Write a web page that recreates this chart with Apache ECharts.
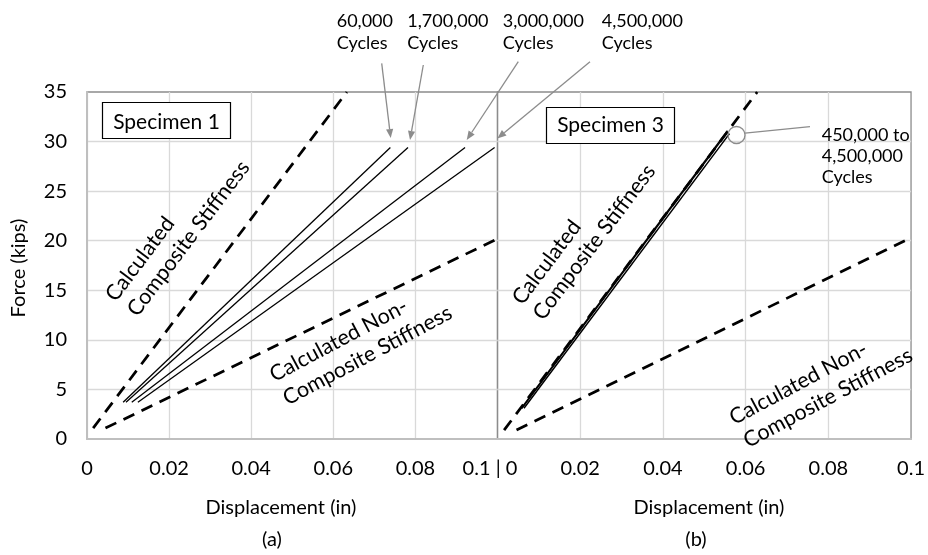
<!DOCTYPE html>
<html><head><meta charset="utf-8">
<script src="https://cdn.jsdelivr.net/npm/echarts@6/dist/echarts.min.js"></script>
<style>html,body{margin:0;padding:0;background:#fff}#c{width:928px;height:555px}</style>
</head><body><div id="c"></div>
<script>
// ---- data ----
const xTickLabelsA = ['0', '0.02', '0.04', '0.06', '0.08', '0.1 | 0'];
const xTickLabelsB = ['', '0.02', '0.04', '0.06', '0.08', '0.1'];
const yTickLabels = ['0', '5', '10', '15', '20', '25', '30', '35'];
// Specimen 1 (a)
const s1Composite = [[0.0015, 1.1], [0.0633, 35]];
const s1NonComposite = [[0.0045, 1.1], [0.1, 20.2]];
const s1Cycles60k = [[0.0088, 3.7], [0.0739, 29.4]];
const s1Cycles1700k = [[0.0095, 3.7], [0.0782, 29.4]];
const s1Cycles3000k = [[0.0109, 3.7], [0.0921, 29.4]];
const s1Cycles4500k = [[0.0124, 3.7], [0.0993, 29.4]];
// Specimen 3 (b)
const s3Composite = [[0.0016, 0.9], [0.0628, 35]];
const s3NonComposite = [[0.0046, 0.9], [0.1, 20.3]];
const s3CyclesA = [[0.0058, 3.1], [0.0556, 31.1]];
const s3CyclesB = [[0.0064, 3.1], [0.0561, 30.8]];
const s3CyclesC = [[0.0059, 3.1], [0.0557, 31.0]];

const FONT = 'Lato, "Open Sans", sans-serif';
const GRAY = '#8c8c8c';
const chart = echarts.init(document.getElementById('c'), null, {renderer: 'canvas'});

function dashed(data, xi) {
  return {type: 'line', xAxisIndex: xi, yAxisIndex: xi, data: data, symbol: 'none', silent: true,
    lineStyle: {color: '#000', width: 2.75, type: [12, 8]}, z: 3};
}
function solid(data, xi, w) {
  return {type: 'line', xAxisIndex: xi, yAxisIndex: xi, data: data, symbol: 'none', silent: true,
    lineStyle: {color: '#000', width: w || 1.3}, z: 4};
}
function xAxisCfg(gi, labels) {
  return {
    gridIndex: gi, type: 'value', min: 0, max: 0.1, interval: 0.02,
    axisLine: {show: true, lineStyle: {color: '#bfbfbf', width: 2}},
    axisTick: {show: false},
    splitLine: {show: true, showMaxLine: false, showMinLine: gi === 0, lineStyle: {color: '#d9d9d9', width: 1.3}},
    axisLabel: {
      margin: 20, color: '#000', fontFamily: FONT, fontSize: 20,
      formatter: function (v) {
        const s = labels[Math.round(v / 0.02)];
        return s === '0.1 | 0' ? '{m|' + s + '}' : s;
      },
      rich: {m: {fontFamily: FONT, fontSize: 20, color: '#000', padding: [0, 15, 3, 0]}}
    }
  };
}
function yAxisCfg(gi) {
  return {
    gridIndex: gi, type: 'value', min: 0, max: 35, interval: 5,
    axisLine: {show: gi === 0, lineStyle: {color: '#bfbfbf', width: 2}},
    axisTick: {show: false},
    splitLine: {show: true, showMaxLine: false, showMinLine: false, lineStyle: {color: '#d9d9d9', width: 1.3}},
    axisLabel: {show: gi === 0, margin: 20, color: '#000', fontFamily: FONT, fontSize: 20,
      formatter: function (v) { return yTickLabels[Math.round(v / 5)]; }}
  };
}

function txt(x, y, text, opts) {
  opts = opts || {};
  return {type: 'text', x: x, y: y, rotation: opts.rot ? opts.rot * Math.PI / 180 : 0, z: 20,
    style: {text: text, fontFamily: FONT, fontSize: opts.size || 18, fill: '#000',
      align: opts.align || 'left', verticalAlign: opts.va || 'middle'}};
}
function arrow(x1, y1, x2, y2) {
  const dx = x2 - x1, dy = y2 - y1, L = Math.sqrt(dx * dx + dy * dy);
  const ux = dx / L, uy = dy / L, h = 9, w = 3.6;
  const bx = x2 - ux * h, by = y2 - uy * h;
  return [
    {type: 'line', z: 20, shape: {x1: x1, y1: y1, x2: bx, y2: by}, style: {stroke: GRAY, lineWidth: 1.3}},
    {type: 'polygon', z: 20, shape: {points: [[x2, y2], [bx - uy * w, by + ux * w], [bx + uy * w, by - ux * w]]},
      style: {fill: GRAY}}
  ];
}

const graphics = [].concat(
  // axis titles
  [txt(18.5, 268, 'Force (kips)', {rot: 90, align: 'center', size: 20})],
  [txt(281, 508, 'Displacement (in)', {align: 'center', size: 20})],
  [txt(272, 540, '(a)', {align: 'center', size: 20})],
  [txt(709, 508, 'Displacement (in)', {align: 'center', size: 20})],
  [txt(696, 540, '(b)', {align: 'center', size: 20})],
  // specimen boxes
  [{type: 'rect', z: 19, shape: {x: 102.5, y: 102.5, width: 128, height: 36}, style: {fill: '#fff', stroke: '#000', lineWidth: 1.2}}],
  [txt(166.5, 122, 'Specimen 1', {align: 'center', size: 21})],
  [{type: 'rect', z: 19, shape: {x: 546.5, y: 107.5, width: 128, height: 36}, style: {fill: '#fff', stroke: '#000', lineWidth: 1.2}}],
  [txt(610.5, 125, 'Specimen 3', {align: 'center', size: 21})],
  // rotated labels, panel (a)
  [txt(110.3, 298.5, 'Calculated', {rot: 53, size: 21.5})],
  [txt(131.9, 313.5, 'Composite Stiffness', {rot: 53, size: 21.5})],
  [txt(271.2, 376.2, 'Calculated Non-', {rot: 28, size: 21.5})],
  [txt(284.5, 399.6, 'Composite Stiffness', {rot: 28, size: 21.5})],
  // rotated labels, panel (b)
  [txt(516.9, 301.9, 'Calculated', {rot: 53, size: 21.5})],
  [txt(537.6, 317.2, 'Composite Stiffness', {rot: 53, size: 21.5})],
  [txt(731, 419, 'Calculated Non-', {rot: 28, size: 21.5})],
  [txt(745, 442, 'Composite Stiffness', {rot: 28, size: 21.5})],
  // cycle annotations
  [txt(336.7, 20.7, '60,000'), txt(336.7, 43.3, 'Cycles')],
  [txt(407.3, 20.7, '1,700,000'), txt(407.3, 43.3, 'Cycles')],
  [txt(502.7, 20.7, '3,000,000'), txt(502.7, 43.3, 'Cycles')],
  [txt(601.7, 20.7, '4,500,000'), txt(601.7, 43.3, 'Cycles')],
  arrow(381.7, 63.3, 390.7, 138),
  arrow(423.3, 65, 410, 140),
  arrow(518.3, 61.7, 466.7, 140),
  arrow(590, 61.7, 497.3, 138.5),
  [{type: 'circle', z: 20, shape: {cx: 736.5, cy: 135, r: 8.5}, style: {fill: 'none', stroke: GRAY, lineWidth: 1.3}}],
  [{type: 'line', z: 20, shape: {x1: 745, y1: 133.2, x2: 810, y2: 126.7}, style: {stroke: GRAY, lineWidth: 1.2}}],
  [txt(821.7, 135, '450,000 to'), txt(821.7, 156, '4,500,000'), txt(821.7, 177, 'Cycles')]
);

chart.setOption({
  animation: false,
  backgroundColor: '#fff',
  grid: [
    {left: 87, top: 92, width: 410.5, height: 347, show: true, borderColor: GRAY, borderWidth: 1.3, backgroundColor: 'transparent'},
    {left: 497.5, top: 92, width: 415, height: 347, show: true, borderColor: GRAY, borderWidth: 1.3, backgroundColor: 'transparent'}
  ],
  xAxis: [xAxisCfg(0, xTickLabelsA), xAxisCfg(1, xTickLabelsB)],
  yAxis: [yAxisCfg(0), yAxisCfg(1)],
  series: [
    dashed(s1Composite, 0), dashed(s1NonComposite, 0),
    solid(s1Cycles60k, 0), solid(s1Cycles1700k, 0), solid(s1Cycles3000k, 0), solid(s1Cycles4500k, 0),
    dashed(s3Composite, 1), dashed(s3NonComposite, 1),
    solid(s3CyclesA, 1, 1.5), solid(s3CyclesB, 1, 1.5), solid(s3CyclesC, 1, 1.5)
  ],
  graphic: graphics
});
</script></body></html>
